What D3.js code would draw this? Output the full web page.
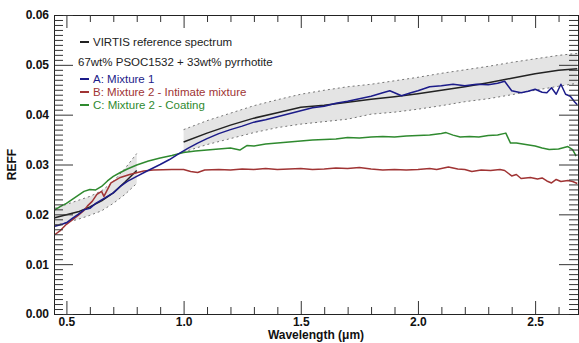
<!DOCTYPE html>
<html>
<head>
<meta charset="utf-8">
<script src="https://cdn.jsdelivr.net/npm/d3@7"></script>
<style>
  body { margin: 0; background: #fff; }
  text { font-family: "Liberation Sans", Arial, Helvetica, sans-serif; }
</style>
</head>
<body>
<div id="chart"></div>
<script>
// --- data ---
const xTicks = [0.5, 1.0, 1.5, 2.0, 2.5];
const yTicks = [0.00, 0.01, 0.02, 0.03, 0.04, 0.05, 0.06];

// VIRTIS reference spectrum + 1-sigma envelope (null = gap)
const virtisWl = [0.45, 0.50, 0.55, 0.60, 0.65, 0.70, 0.75, 0.80, 0.90, 1.00, 1.10, 1.20, 1.30, 1.40, 1.50, 1.60, 1.70, 1.80, 1.90, 2.00, 2.10, 2.20, 2.30, 2.40, 2.50, 2.60, 2.68];
const virtisVal = [0.0193, 0.0199, 0.0205, 0.0215, 0.0227, 0.0243, 0.0265, 0.0288, null, 0.0345, 0.0363, 0.0379, 0.0393, 0.0404, 0.0415, 0.0419, 0.0425, 0.0431, 0.0436, 0.0442, 0.0449, 0.0456, 0.0464, 0.0473, 0.0482, 0.0489, 0.0492];
const virtisLow = [0.0178, 0.0184, 0.0190, 0.0198, 0.0207, 0.0222, 0.0240, 0.0262, null, 0.0325, 0.0340, 0.0352, 0.0364, 0.0374, 0.0381, 0.0386, 0.0391, 0.0401, 0.0405, 0.0411, 0.0418, 0.0426, 0.0432, 0.0440, 0.0449, 0.0457, 0.0463];
const virtisHigh = [0.0212, 0.0220, 0.0228, 0.0236, 0.0247, 0.0266, 0.0292, 0.0322, null, 0.0370, 0.0388, 0.0403, 0.0418, 0.0430, 0.0441, 0.0449, 0.0456, 0.0461, 0.0468, 0.0475, 0.0483, 0.0490, 0.0497, 0.0505, 0.0512, 0.0519, 0.0523];

// A: Mixture 1
const mixAWl = [0.45, 0.475, 0.50, 0.525, 0.55, 0.575, 0.60, 0.625, 0.65, 0.675, 0.70, 0.73, 0.76, 0.80, 0.84, 0.87, 0.90, 0.94, 0.98, 1.02, 1.06, 1.10, 1.15, 1.20, 1.25, 1.30, 1.35, 1.40, 1.45, 1.50, 1.55, 1.60, 1.65, 1.70, 1.75, 1.80, 1.85, 1.88, 1.93, 1.97, 2.00, 2.05, 2.10, 2.15, 2.20, 2.25, 2.30, 2.34, 2.37, 2.40, 2.44, 2.47, 2.50, 2.53, 2.55, 2.57, 2.59, 2.61, 2.63, 2.65, 2.67, 2.68];
const mixAVal = [0.0176, 0.0179, 0.0183, 0.0192, 0.0200, 0.0209, 0.0212, 0.0222, 0.0229, 0.0236, 0.0243, 0.0256, 0.0266, 0.0276, 0.0286, 0.0293, 0.0300, 0.0310, 0.0322, 0.0333, 0.0343, 0.0352, 0.0362, 0.0370, 0.0377, 0.0385, 0.0390, 0.0396, 0.0402, 0.0408, 0.0414, 0.0417, 0.0423, 0.0427, 0.0432, 0.0437, 0.0444, 0.0448, 0.0438, 0.0444, 0.0448, 0.0456, 0.0458, 0.0461, 0.0458, 0.0461, 0.0460, 0.0463, 0.0467, 0.0448, 0.0444, 0.0447, 0.0451, 0.0445, 0.0444, 0.0454, 0.0441, 0.0461, 0.0441, 0.0437, 0.0425, 0.0420];

// B: Mixture 2 - Intimate mixture
const mixBWl = [0.45, 0.475, 0.50, 0.525, 0.55, 0.575, 0.59, 0.61, 0.63, 0.65, 0.66, 0.69, 0.73, 0.77, 0.83, 0.87, 0.95, 1.00, 1.03, 1.06, 1.09, 1.15, 1.20, 1.25, 1.30, 1.35, 1.40, 1.45, 1.50, 1.55, 1.60, 1.65, 1.70, 1.75, 1.80, 1.85, 1.90, 1.95, 2.00, 2.05, 2.08, 2.13, 2.17, 2.20, 2.23, 2.27, 2.31, 2.35, 2.37, 2.40, 2.42, 2.44, 2.48, 2.51, 2.53, 2.55, 2.57, 2.59, 2.61, 2.64, 2.66, 2.68];
const mixBVal = [0.0159, 0.0168, 0.0180, 0.0189, 0.0198, 0.0208, 0.0217, 0.0226, 0.0240, 0.0246, 0.0236, 0.0263, 0.0274, 0.0280, 0.0287, 0.0289, 0.0290, 0.0290, 0.0286, 0.0284, 0.0289, 0.0290, 0.0289, 0.0291, 0.0290, 0.0292, 0.0290, 0.0291, 0.0292, 0.0290, 0.0291, 0.0293, 0.0292, 0.0294, 0.0291, 0.0289, 0.0290, 0.0289, 0.0290, 0.0292, 0.0290, 0.0295, 0.0291, 0.0290, 0.0286, 0.0289, 0.0288, 0.0290, 0.0288, 0.0277, 0.0280, 0.0272, 0.0274, 0.0271, 0.0273, 0.0267, 0.0263, 0.0270, 0.0266, 0.0268, 0.0266, 0.0262];

// C: Mixture 2 - Coating
const mixCWl = [0.45, 0.475, 0.50, 0.525, 0.55, 0.575, 0.60, 0.625, 0.65, 0.675, 0.70, 0.73, 0.76, 0.80, 0.85, 0.90, 0.95, 1.00, 1.05, 1.10, 1.15, 1.20, 1.24, 1.27, 1.30, 1.35, 1.40, 1.45, 1.50, 1.55, 1.60, 1.65, 1.70, 1.75, 1.80, 1.85, 1.90, 1.95, 2.00, 2.05, 2.10, 2.12, 2.15, 2.18, 2.22, 2.26, 2.30, 2.34, 2.375, 2.395, 2.42, 2.46, 2.50, 2.53, 2.56, 2.60, 2.64, 2.66, 2.675];
const mixCVal = [0.0209, 0.0216, 0.0222, 0.0230, 0.0238, 0.0246, 0.0250, 0.0249, 0.0256, 0.0267, 0.0276, 0.0284, 0.0291, 0.0299, 0.0307, 0.0313, 0.0318, 0.0324, 0.0327, 0.0329, 0.0331, 0.0333, 0.0329, 0.0338, 0.0337, 0.0341, 0.0343, 0.0345, 0.0347, 0.0349, 0.0350, 0.0351, 0.0354, 0.0353, 0.0355, 0.0356, 0.0355, 0.0357, 0.0358, 0.0359, 0.0362, 0.0364, 0.0359, 0.0355, 0.0356, 0.0355, 0.0358, 0.0359, 0.0363, 0.0343, 0.0343, 0.0340, 0.0337, 0.0333, 0.0330, 0.0331, 0.0336, 0.0330, 0.0317];

const legendLines = [
  { label: "VIRTIS reference spectrum", color: "#222222", dash: true },
  { label: "67wt% PSOC1532 + 33wt% pyrrhotite", color: "#222222", dash: false },
  { label: "A: Mixture 1", color: "#1c1c8a", dash: true },
  { label: "B: Mixture 2 - Intimate mixture", color: "#a03434", dash: true },
  { label: "C: Mixture 2 - Coating", color: "#2f8a2f", dash: true }
];

// --- layout ---
const W = 579, H = 343;
const margin = { left: 54, right: 1, top: 15, bottom: 29 };

const svg = d3.select("#chart").append("svg")
  .attr("width", W).attr("height", H);

const x = d3.scaleLinear().domain([0.447, 2.683]).range([margin.left, W - margin.right]);
const y = d3.scaleLinear().domain([0, 0.06]).range([H - margin.bottom, margin.top]);

const toPoints = (wl, vals) => wl.map((w, i) => ({ w: w, v: vals[i] }));

// grey envelope
const envelope = virtisWl.map((w, i) => ({ w: w, lo: virtisLow[i], hi: virtisHigh[i] }));
svg.append("path")
  .datum(envelope)
  .attr("fill", "#e4e4e4")
  .attr("d", d3.area().defined(d => d.lo !== null)
    .x(d => x(d.w)).y0(d => y(d.lo)).y1(d => y(d.hi)));

const edge = (key) => d3.line().defined(d => d[key] !== null).x(d => x(d.w)).y(d => y(d[key]));
["lo", "hi"].forEach(k => {
  svg.append("path")
    .datum(envelope)
    .attr("fill", "none")
    .attr("stroke", "#555")
    .attr("stroke-width", 0.8)
    .attr("stroke-dasharray", "2,3")
    .attr("d", edge(k));
});

const line = d3.line().defined(d => d.v !== null).x(d => x(d.w)).y(d => y(d.v));

const series = [
  { pts: toPoints(virtisWl, virtisVal), color: "#222222" },
  { pts: toPoints(mixBWl, mixBVal), color: "#a03434" },
  { pts: toPoints(mixCWl, mixCVal), color: "#2f8a2f" },
  { pts: toPoints(mixAWl, mixAVal), color: "#1c1c8a" }
];
series.forEach(s => {
  svg.append("path")
    .datum(s.pts)
    .attr("fill", "none")
    .attr("stroke", s.color)
    .attr("stroke-width", 1.5)
    .attr("stroke-linejoin", "round")
    .attr("d", line);
});

// --- axes (ticks point inward, IDL style) ---
const xMinor = d3.range(5, 27).map(d => d / 10).filter(d => !xTicks.includes(d));
const yMinor = d3.range(0, 61).map(d => d / 1000).filter(d => !yTicks.some(t => Math.abs(t - d) < 1e-9));

function styleAxis(g) {
  g.selectAll("path.domain").attr("stroke", "#222").attr("stroke-width", 1);
  g.selectAll(".tick line").attr("stroke", "#333");
  g.selectAll("text").attr("font-weight", "bold").attr("font-size", 12)
    .attr("font-family", "'Liberation Sans', Arial, sans-serif").attr("fill", "#111");
}

const bottomY = H - margin.bottom, topY = margin.top;
const leftX = margin.left, rightX = W - margin.right;

// bottom
svg.append("g").attr("transform", `translate(0,${bottomY})`)
  .call(d3.axisBottom(x).tickValues(xTicks).tickSize(-13).tickPadding(3).tickFormat(d3.format(".1f")))
  .call(styleAxis);
svg.append("g").attr("transform", `translate(0,${bottomY})`)
  .call(d3.axisBottom(x).tickValues(xMinor).tickSize(-7).tickFormat(""))
  .call(styleAxis);
// top
svg.append("g").attr("transform", `translate(0,${topY})`)
  .call(d3.axisTop(x).tickValues(xTicks).tickSize(-13).tickFormat(""))
  .call(styleAxis);
svg.append("g").attr("transform", `translate(0,${topY})`)
  .call(d3.axisTop(x).tickValues(xMinor).tickSize(-7).tickFormat(""))
  .call(styleAxis);
// left
svg.append("g").attr("transform", `translate(${leftX},0)`)
  .call(d3.axisLeft(y).tickValues(yTicks).tickSize(-19).tickPadding(5).tickFormat(d3.format(".2f")))
  .call(styleAxis);
svg.append("g").attr("transform", `translate(${leftX},0)`)
  .call(d3.axisLeft(y).tickValues(yMinor).tickSize(-9).tickFormat(""))
  .call(styleAxis);
// right
svg.append("g").attr("transform", `translate(${rightX},0)`)
  .call(d3.axisRight(y).tickValues(yTicks).tickSize(-19).tickFormat(""))
  .call(styleAxis);
svg.append("g").attr("transform", `translate(${rightX},0)`)
  .call(d3.axisRight(y).tickValues(yMinor).tickSize(-9).tickFormat(""))
  .call(styleAxis);

// axis titles
svg.append("text")
  .attr("x", (leftX + rightX) / 2).attr("y", 339)
  .attr("text-anchor", "middle")
  .attr("font-size", 12).attr("font-weight", "bold").attr("fill", "#111")
  .text("Wavelength (\u03bcm)");

svg.append("text")
  .attr("transform", `translate(16,${(topY + bottomY) / 2}) rotate(-90)`)
  .attr("text-anchor", "middle")
  .attr("font-size", 12).attr("font-weight", "bold").attr("fill", "#111")
  .text("REFF");

// legend
const legendY = [42, 62, 79, 92, 105];
const legend = svg.append("g");
legendLines.forEach((d, i) => {
  const ly = legendY[i];
  if (d.dash) {
    legend.append("line")
      .attr("x1", 80).attr("x2", 89).attr("y1", ly).attr("y2", ly)
      .attr("stroke", d.color).attr("stroke-width", 2);
  }
  legend.append("text")
    .attr("x", d.dash ? 93 : 78).attr("y", ly + 4)
    .attr("font-size", 11.5)
    .attr("fill", d.color)
    .text(d.label);
});
</script>
</body>
</html>
